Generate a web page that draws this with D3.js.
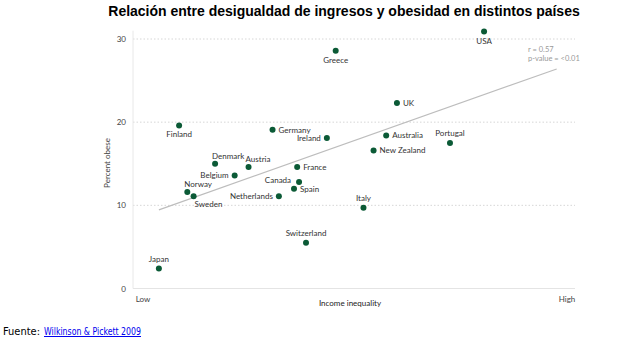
<!DOCTYPE html>
<html>
<head>
<meta charset="utf-8">
<script src="https://cdn.jsdelivr.net/npm/d3@7"></script>
<style>
  body { margin: 0; background: #fff; }
  svg { display: block; }
</style>
</head>
<body>
<svg id="graph" width="620" height="337"></svg>
<script>
// countries, income inequality index and percent obese
const countries = ["Japan","Finland","Norway","Sweden","Denmark","Belgium","Austria","Germany","Netherlands","Spain","France","Canada","Switzerland","Ireland","Greece","Italy","New Zealand","Australia","UK","Portugal","USA"]
const inequality = [3.41,3.73,3.86,3.96,4.30,4.61,4.83,5.21,5.31,5.55,5.60,5.63,5.74,6.07,6.21,6.65,6.81,7.01,7.18,8.02,8.56]
const obese = [2.4,19.6,11.6,11.1,15.0,13.6,14.6,19.1,11.1,12.0,14.6,12.8,5.5,18.1,28.6,9.7,16.6,18.4,22.3,17.5,30.9]
// label placement: side and offset from the dot
const labelPos = ["top","bottom","topright","bottomright","topright","left","topright","right","left","right","right","topleft","top","left","bottom","top","right","right","right","top","bottom"]
const yTicks = [0,10,20,30]
// regression line
const fitX = [3.41, 9.71]
const fitSlope = 2.69
const fitIntercept = 0.28

var svg = d3.select("#graph")
var x = d3.scaleLinear().domain([3,10]).range([133,575])
var y = d3.scaleLinear().domain([0,30]).range([288.5,39])

svg.append("text").attr("x",344).attr("y",16).attr("text-anchor","middle")
  .style("font-family","'Liberation Sans Narrow','Liberation Sans',sans-serif").style("font-weight","bold").style("font-size","14px").style("fill","#000")
  .text("Relación entre desigualdad de ingresos y obesidad en distintos países")

// gridlines
svg.selectAll("line.grid").data(yTicks.filter(d => d > 0)).enter().append("line")
  .attr("class","grid").attr("x1",x(3)).attr("x2",x(10)).attr("y1",d => y(d)).attr("y2",d => y(d))
  .style("stroke","#d6d6d6").style("stroke-dasharray","1.5,2").style("stroke-width",1)

svg.append("line").attr("x1",x(3)).attr("x2",x(10)).attr("y1",y(0)).attr("y2",y(0)).style("stroke","#e4e4e4")
svg.append("line").attr("x1",x(3)).attr("x2",x(3)).attr("y1",y(0)).attr("y2",y(31)).style("stroke","#e8e8e8")

var font = "'Lato','Open Sans',sans-serif"
svg.selectAll("text.tick").data(yTicks).enter().append("text")
  .attr("class","tick").attr("x",126).attr("y",d => y(d)+3).attr("text-anchor","end")
  .style("font-family",font).style("font-size","8px").style("fill","#444").text(d => d)

svg.append("text").attr("transform","translate(110,163) rotate(-90)").attr("text-anchor","middle")
  .style("font-family",font).style("font-size","8px").style("fill","#444").text("Percent obese")
svg.append("text").attr("x",143).attr("y",302).attr("text-anchor","middle")
  .style("font-family",font).style("font-size","8px").style("fill","#444").text("Low")
svg.append("text").attr("x",567).attr("y",302).attr("text-anchor","middle")
  .style("font-family",font).style("font-size","8px").style("fill","#444").text("High")
svg.append("text").attr("x",350).attr("y",306).attr("text-anchor","middle")
  .style("font-family",font).style("font-size","8px").style("fill","#222").text("Income inequality")

svg.append("line")
  .attr("x1",x(fitX[0])).attr("y1",y(fitIntercept + fitSlope*fitX[0]))
  .attr("x2",x(fitX[1])).attr("y2",y(fitIntercept + fitSlope*fitX[1]))
  .style("stroke","#bdbdbd").style("stroke-width",1.2)

svg.append("text").attr("x",528).attr("y",52).style("font-family",font).style("font-size","7.5px").style("fill","#999").text("r = 0.57")
svg.append("text").attr("x",528).attr("y",61).style("font-family",font).style("font-size","7.5px").style("fill","#999").text("p-value = <0.01")

svg.selectAll("circle").data(countries).enter().append("circle")
  .attr("cx",(d,i) => x(inequality[i])).attr("cy",(d,i) => y(obese[i])).attr("r",3)
  .style("fill","#0b5a36")

function labelAttrs(p) {
  if (p == "top") return [0,-7,"middle"]
  if (p == "bottom") return [0,12,"middle"]
  if (p == "right") return [6,3,"start"]
  if (p == "left") return [-6,3,"end"]
  if (p == "topright") return [-3,-5,"start"]
  if (p == "topleft") return [-8,1,"end"]
  if (p == "bottomright") return [1,11,"start"]
}

svg.selectAll("text.country").data(countries).enter().append("text")
  .attr("class","country")
  .attr("x",(d,i) => x(inequality[i]) + labelAttrs(labelPos[i])[0])
  .attr("y",(d,i) => y(obese[i]) + labelAttrs(labelPos[i])[1])
  .attr("text-anchor",(d,i) => labelAttrs(labelPos[i])[2])
  .style("font-family",font).style("font-size","8px").style("fill","#333")
  .text(d => d)

// source line
var srcFont = "'DejaVu Sans Condensed','DejaVu Sans',sans-serif"
svg.append("text").attr("x",3).attr("y",335).attr("textLength",37).attr("lengthAdjust","spacingAndGlyphs")
  .style("font-family",srcFont).style("font-size","11px").style("fill","#000").text("Fuente:")
svg.append("text").attr("x",44).attr("y",335).attr("textLength",97).attr("lengthAdjust","spacingAndGlyphs")
  .style("font-family",srcFont).style("font-size","11px").style("fill","#0000ee").style("text-decoration","underline")
  .text("Wilkinson & Pickett 2009")
</script>
</body>
</html>
